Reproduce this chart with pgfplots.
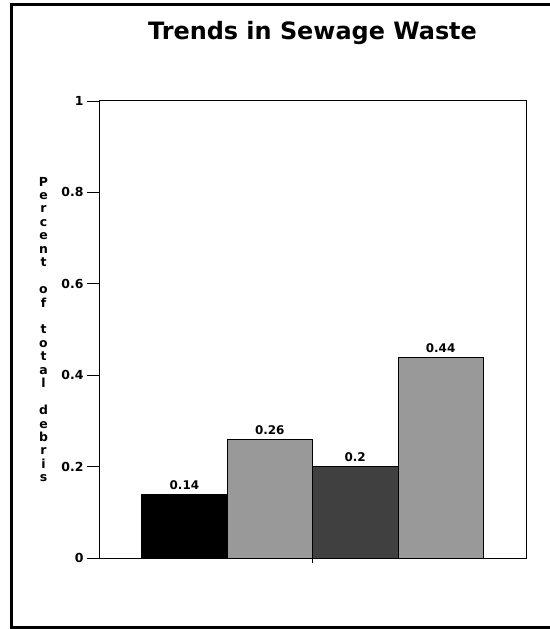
\documentclass[border=0pt]{standalone}
\usepackage{pgfplots}
\pgfplotsset{compat=1.18}
\usepackage{fontspec}
\setmainfont{DejaVu Sans}
\begin{document}
\begin{tikzpicture}
% page size and the outer frame (its right side runs off the page)
\path[use as bounding box] (-99bp,-71bp) rectangle (451bp,558bp);
\draw[line width=3bp] (452bp,553bp) -- (-87.5bp,553bp) -- (-87.5bp,-69bp) -- (452bp,-69bp);
\begin{axis}[
    scale only axis,
    width=427bp, height=457bp,
    xmin=0, xmax=5,
    ymin=0, ymax=1,
    xtick=\empty,
    extra x ticks={2.5}, extra x tick labels={},
    extra x tick style={major tick length=5bp},
    ytick={0,0.2,0.4,0.6,0.8,1},
    tick pos=left,
    tick align=outside,
    major tick length=12bp,
    axis line style={line width=1pt},
    tick style={line width=0.8pt, black},
    /pgf/number format/assume math mode=true,
    ticklabel style={font=\bfseries\fontsize{12.5}{14}\selectfont},
    title={Trends in Sewage Waste},
    title style={at={(axis description cs:0.5,1.1225)}, anchor=base,
        font=\bfseries\fontsize{24}{28}\selectfont},
    ylabel={P\\e\\r\\c\\e\\n\\t\\\mbox{}\\o\\f\\\mbox{}\\t\\o\\t\\a\\l\\\mbox{}\\d\\e\\b\\r\\i\\s},
    ylabel style={rotate=-90, at={(axis description cs:-0.13,0.5)}, anchor=center,
        align=center, font=\bfseries\fontsize{12.5}{13.5}\selectfont},
    every axis plot/.append style={ybar, bar width=1, bar shift=0pt, draw=black, line width=0.8pt},
    nodes near coords,
    nodes near coords style={font=\bfseries\fontsize{12}{14}\selectfont, yshift=1bp},
]
\addplot[fill=black] coordinates {(1,0.14)};
\addplot[fill=black!40] coordinates {(2,0.26)};
\addplot[fill=black!75] coordinates {(3,0.2)};
\addplot[fill=black!40] coordinates {(4,0.44)};
\end{axis}
\end{tikzpicture}
\end{document}
